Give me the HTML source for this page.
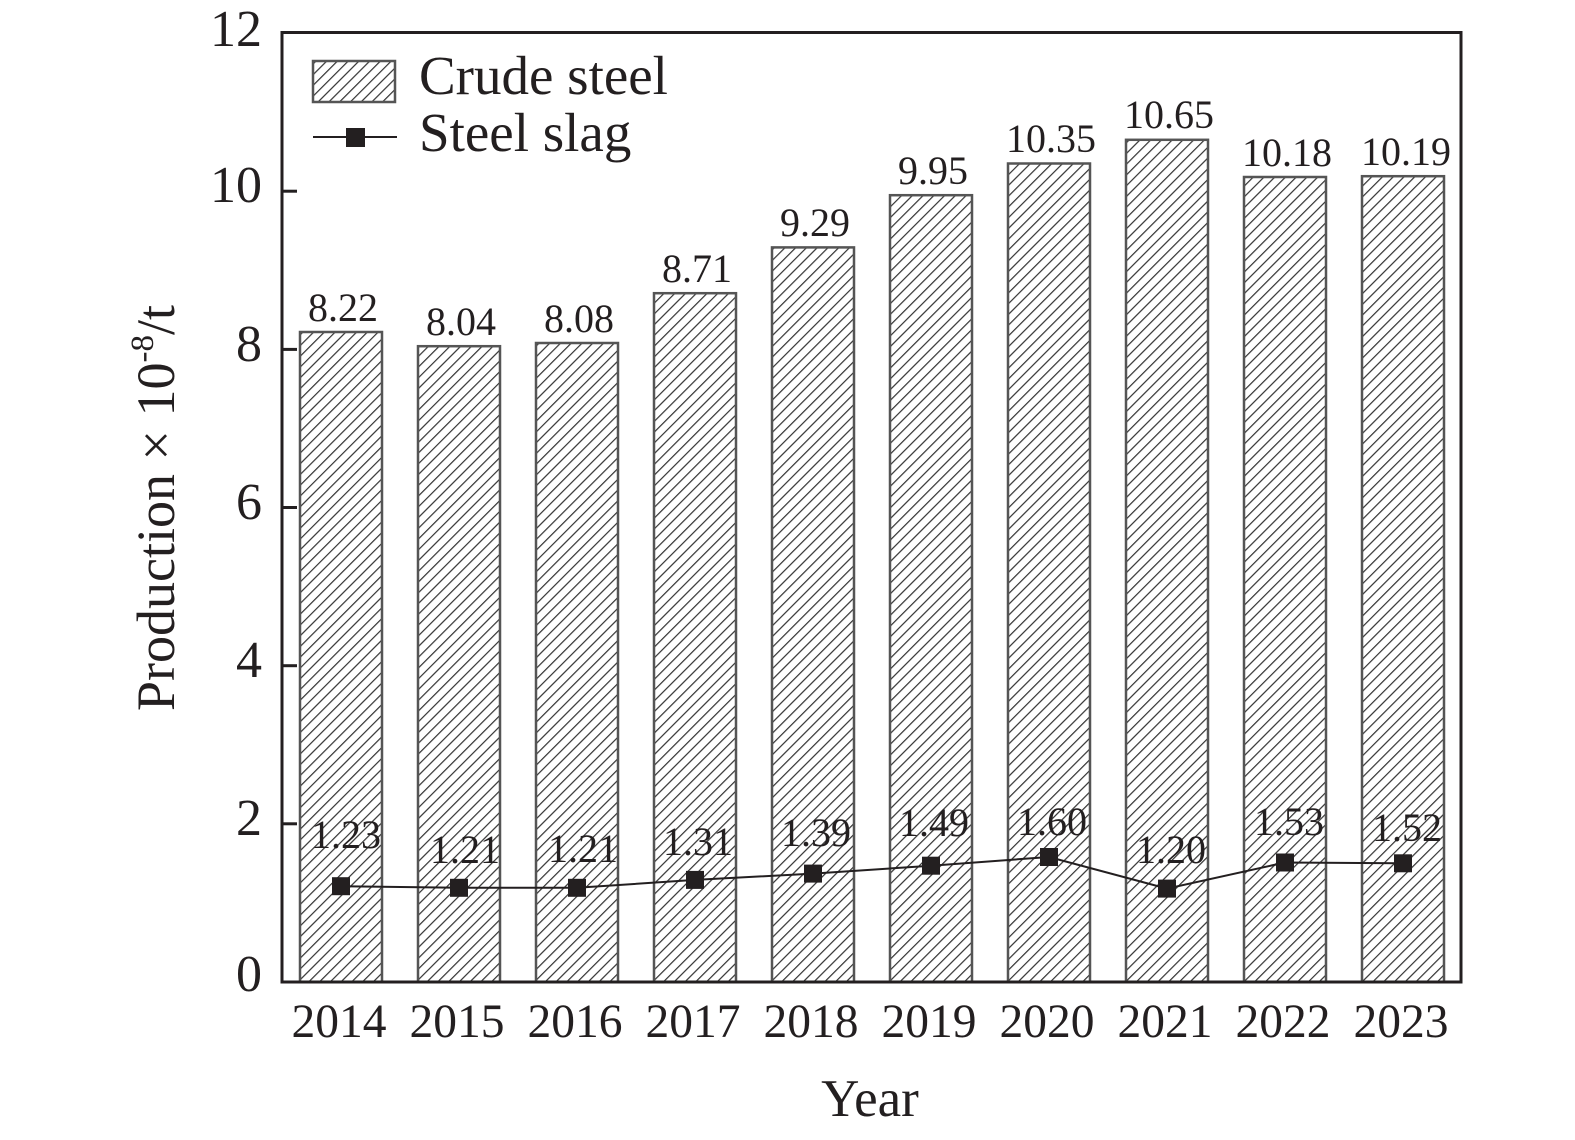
<!DOCTYPE html>
<html><head><meta charset="utf-8"><style>
html,body{margin:0;padding:0;background:#fff;}
svg{display:block;}
text{font-family:"Liberation Serif","Times New Roman",serif;fill:#231f20;}
</style></head><body>
<svg width="1575" height="1140" viewBox="0 0 1575 1140" xmlns="http://www.w3.org/2000/svg">
<defs>
<pattern id="h" patternUnits="userSpaceOnUse" width="7.6" height="10" patternTransform="rotate(45)">
<line x1="0" y1="0" x2="0" y2="10" stroke="#333" stroke-width="2.4"/>
</pattern>
</defs>
<rect width="1575" height="1140" fill="#fff"/>
<!-- bars -->
<g stroke="#555" stroke-width="2.5">
<rect x="300" y="332.0" width="82" height="650.0" fill="url(#h)"/>
<rect x="418" y="346.2" width="82" height="635.8" fill="url(#h)"/>
<rect x="536" y="343.0" width="82" height="639.0" fill="url(#h)"/>
<rect x="654" y="293.2" width="82" height="688.8" fill="url(#h)"/>
<rect x="772" y="247.4" width="82" height="734.6" fill="url(#h)"/>
<rect x="890" y="195.2" width="82" height="786.8" fill="url(#h)"/>
<rect x="1008" y="163.5" width="82" height="818.5" fill="url(#h)"/>
<rect x="1126" y="139.8" width="82" height="842.2" fill="url(#h)"/>
<rect x="1244" y="177.0" width="82" height="805.0" fill="url(#h)"/>
<rect x="1362" y="176.2" width="82" height="805.8" fill="url(#h)"/>
</g>
<!-- bar labels -->
<g font-size="40" text-anchor="middle">
<text x="343" y="321">8.22</text>
<text x="461" y="335">8.04</text>
<text x="579" y="332">8.08</text>
<text x="697" y="282">8.71</text>
<text x="815" y="236">9.29</text>
<text x="933" y="184">9.95</text>
<text x="1051" y="152">10.35</text>
<text x="1169" y="128">10.65</text>
<text x="1287" y="166">10.18</text>
<text x="1406" y="165">10.19</text>
</g>
<!-- slag line -->
<polyline fill="none" stroke="#231f20" stroke-width="2" points="341,886.2 459,887.8 577,887.8 695,879.9 813,873.6 931,865.7 1049,857 1167,888.6 1285,862.5 1403,863.3"/>
<g fill="#231f20">
<rect x="332" y="877.2" width="18" height="18"/>
<rect x="450" y="878.8" width="18" height="18"/>
<rect x="568" y="878.8" width="18" height="18"/>
<rect x="686" y="870.9" width="18" height="18"/>
<rect x="804" y="864.6" width="18" height="18"/>
<rect x="922" y="856.7" width="18" height="18"/>
<rect x="1040" y="848" width="18" height="18"/>
<rect x="1158" y="879.6" width="18" height="18"/>
<rect x="1276" y="853.5" width="18" height="18"/>
<rect x="1394" y="854.3" width="18" height="18"/>
</g>
<g font-size="40" text-anchor="middle">
<text x="346" y="848">1.23</text>
<text x="465" y="863">1.21</text>
<text x="583" y="862">1.21</text>
<text x="698" y="855">1.31</text>
<text x="816" y="846">1.39</text>
<text x="934" y="836">1.49</text>
<text x="1052" y="835">1.60</text>
<text x="1171" y="863">1.20</text>
<text x="1289" y="835">1.53</text>
<text x="1407" y="841">1.52</text>
</g>
<!-- axes -->
<rect x="282" y="32.5" width="1179" height="949.5" fill="none" stroke="#231f20" stroke-width="3"/>
<g stroke="#231f20" stroke-width="3">
<line x1="282" y1="823.8" x2="297" y2="823.8"/>
<line x1="282" y1="665.7" x2="297" y2="665.7"/>
<line x1="282" y1="507.5" x2="297" y2="507.5"/>
<line x1="282" y1="349.4" x2="297" y2="349.4"/>
<line x1="282" y1="191.2" x2="297" y2="191.2"/>
</g>
<g font-size="52" text-anchor="end">
<text x="262" y="991">0</text>
<text x="262" y="835">2</text>
<text x="262" y="677">4</text>
<text x="262" y="519">6</text>
<text x="262" y="361">8</text>
<text x="262" y="202">10</text>
<text x="262" y="46">12</text>
</g>
<g font-size="47.5" text-anchor="middle">
<text x="339" y="1037">2014</text>
<text x="457" y="1037">2015</text>
<text x="575" y="1037">2016</text>
<text x="693" y="1037">2017</text>
<text x="811" y="1037">2018</text>
<text x="929" y="1037">2019</text>
<text x="1047" y="1037">2020</text>
<text x="1165" y="1037">2021</text>
<text x="1283" y="1037">2022</text>
<text x="1401" y="1037">2023</text>
</g>
<text x="870" y="1116" font-size="53" text-anchor="middle">Year</text>
<text transform="translate(174,508) rotate(-90)" font-size="54" text-anchor="middle">Production × 10<tspan font-size="33" dy="-21">-8</tspan><tspan dy="21">/t</tspan></text>
<!-- legend -->
<rect x="313" y="61" width="82" height="41" fill="url(#h)" stroke="#555" stroke-width="2.5"/>
<line x1="313" y1="137" x2="397" y2="137" stroke="#231f20" stroke-width="2"/>
<rect x="346" y="128" width="19" height="19" fill="#231f20"/>
<text x="419" y="94" font-size="55">Crude steel</text>
<text x="419" y="151" font-size="55">Steel slag</text>
</svg>
</body></html>
